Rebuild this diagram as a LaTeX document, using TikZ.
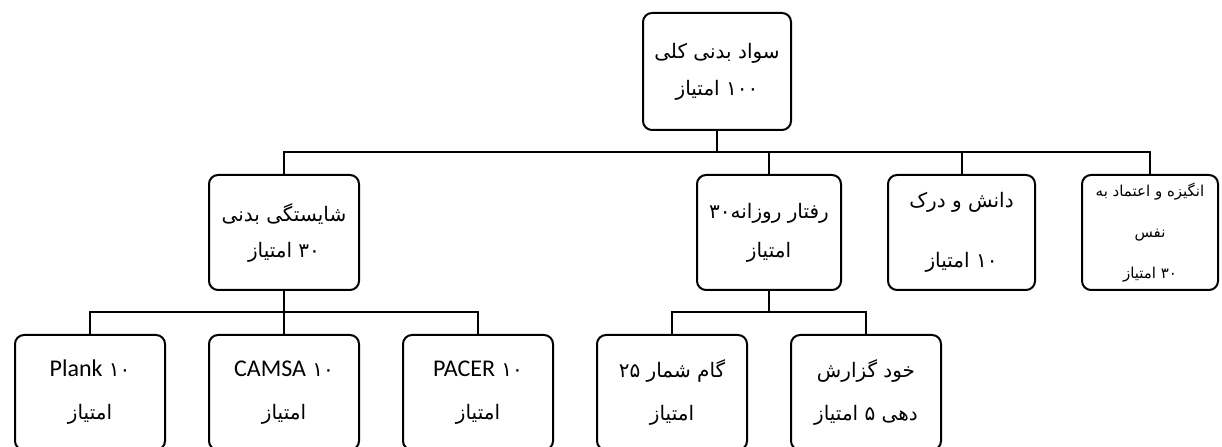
\documentclass[tikz,border=0pt]{standalone}
\usepackage{fontspec}
\setmainfont{Carlito}
\newfontfamily\farsi[Script=Arabic]{DejaVu Sans}
\TeXXeTstate=1
\usetikzlibrary{positioning,calc}
\newcommand\lat[1]{{\rmfamily\fontsize{24bp}{24bp}\selectfont #1}}
\newcommand\fanum[1]{\beginL#1\endL}

\begin{document}
\begin{tikzpicture}[x=1bp,y=1bp,
  box/.style={draw,line width=2bp,rounded corners=9bp,minimum width=150bp,minimum height=115bp,
    outer sep=0pt,align=center,inner sep=0pt,font=\farsi\fontsize{20bp}{#1}\selectfont},
  box/.default=37bp,
  link/.style={line width=2bp},
  node distance=45bp and 44bp
]
  \useasboundingbox (0,0) rectangle (1222,447);
  \clip (0,0) rectangle (1222,447);

  % bottom row
  \node[box=43bp,anchor=north west] (plank) at (15,112) {\lat{Plank} \fanum{۱۰}\\\beginR امتیاز\endR};
  \node[box=43bp,right=of plank] (camsa) {\lat{CAMSA} \fanum{۱۰}\\\beginR امتیاز\endR};
  \node[box=43bp,right=of camsa] (pacer) {\lat{PACER} \fanum{۱۰}\\\beginR امتیاز\endR};
  \node[box=43bp,right=of pacer] (pedometer) {\beginR گام شمار \fanum{۲۵}\endR\\\beginR امتیاز\endR};
  \node[box=43bp,right=of pedometer] (selfreport) {\beginR خود گزارش\endR\\\beginR دهی \fanum{۵} امتیاز\endR};
  \coordinate (lowmid) at ($(pedometer.north)!0.5!(selfreport.north)$);

  % middle row
  \node[box=36bp,above=of camsa] (fitness) {\beginR شایستگی بدنی\endR\\\beginR \fanum{۳۰} امتیاز\endR};
  \node[box=39bp,minimum width=144bp,above=of lowmid] (daily) {\beginR رفتار روزانه\fanum{۳۰}\endR\\\beginR امتیاز\endR};
  \node[box=60bp,minimum width=147bp,right=47bp of daily] (knowledge) {\beginR دانش و درک\endR\\\beginR \fanum{۱۰} امتیاز\endR};
  \node[box,minimum width=136bp,font=\farsi\fontsize{15bp}{41bp}\selectfont,right=47bp of knowledge] (motivation)
    {\beginR انگیزه و اعتماد به\endR\\\beginR نفس\endR\\\beginR \fanum{۳۰} امتیاز\endR};

  % top
  \coordinate (midmid) at ($(fitness.north)!0.5!(motivation.north)$);
  \node[box,minimum width=148bp,minimum height=117bp,above=of midmid] (total)
    {\beginR سواد بدنی کلی\endR\\\beginR \fanum{۱۰۰} امتیاز\endR};

  % connectors
  \path (total.south) -- (total.south |- fitness.north) coordinate[midway] (busa);
  \foreach \n in {fitness,daily,knowledge,motivation}
    \draw[link] (total.south) -- (busa) -| (\n.north);
  \path (fitness.south) -- (fitness.south |- camsa.north) coordinate[midway] (busb);
  \foreach \n in {plank,camsa,pacer}
    \draw[link] (fitness.south) -- (busb) -| (\n.north);
  \path (daily.south) -- (daily.south |- pedometer.north) coordinate[midway] (busc);
  \foreach \n in {pedometer,selfreport}
    \draw[link] (daily.south) -- (busc) -| (\n.north);
\end{tikzpicture}
\end{document}
